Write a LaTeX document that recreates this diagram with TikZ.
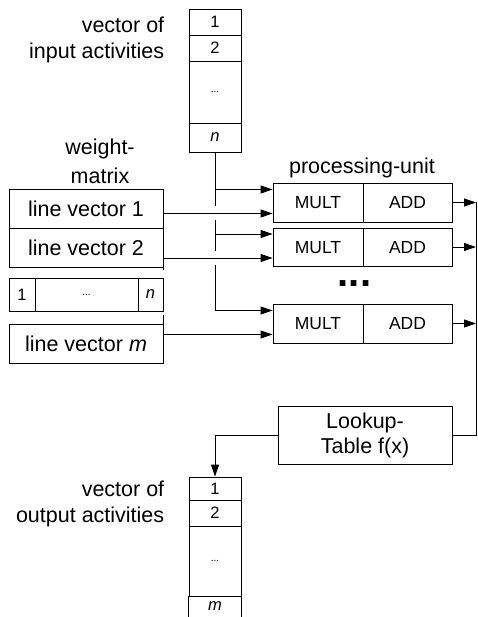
\documentclass[tikz,border=0pt]{standalone}
\usepackage{fontspec}
\setmainfont{Liberation Sans}
\usetikzlibrary{arrows.meta,calc}

\tikzset{
  cell/.style={draw, inner sep=0pt, minimum width=52pt, font=\fontsize{16.5}{19}\selectfont},
  lbl/.style={align=right, anchor=east, font=\fontsize{21.5}{26}\selectfont},
  bigbox/.style={draw, inner sep=0pt, font=\fontsize{21.5}{25}\selectfont},
  unit/.style={draw, inner sep=0pt, minimum width=90pt, text height=12.6pt, text depth=0pt, font=\fontsize{17.5}{21}\selectfont},
  conn/.style={-{Triangle[length=12pt,width=8pt]}},
}

\begin{document}
\begin{tikzpicture}[x=1pt, y=-1pt, line width=0.9pt]
    \useasboundingbox (0,0) rectangle (477,617);

    % Input vector
    \node[cell, minimum height=26pt] (in1) at (215,22) {1};
    \node[cell, minimum height=26pt] (in2) at (215,48) {2};
    \node[cell, minimum height=62pt, font=\fontsize{10}{12}\selectfont] (indots) at (215,92) {...};
    \node[cell, minimum height=29pt] (inn) at (215,137.5) {\textit{n}};
    \node[lbl] (inlbl) at (168,40) {vector of\\input activities};

    % Weight matrix
    \node[align=center, font=\fontsize{21.5}{29}\selectfont] (wmlbl) at (100,161) {weight-\\matrix};
    \node[bigbox, minimum width=154pt, minimum height=39pt] (lv1) at (86,208.5) {line vector 1};
    \node[bigbox, minimum width=154pt, minimum height=39pt] (lv2) at (86,247.5) {line vector 2};
    \node[cell, minimum width=26pt, minimum height=33pt] (row1) at (22,294.5) {1};
    \node[cell, minimum width=103pt, minimum height=33pt, font=\fontsize{10}{12}\selectfont] (rowdots) at (86.5,294.5) {...};
    \node[cell, minimum width=25pt, minimum height=33pt] (rown) at (150.5,294.5) {\textit{n}};
    \node[bigbox, minimum width=154pt, minimum height=39pt] (lvm) at (86,343.5) {line vector \textit{m}};
    \draw (lv2.south east) -- ++(0,3);
    \draw (lvm.north east) -- ++(0,-9);

    % Processing units
    \node[font=\fontsize{21.5}{25}\selectfont] (pulbl) at (362,168) {processing-unit};
    \foreach \i/\y/\h in {1/202.5/39, 2/247/38, 3/323.5/39} {
        \node[unit, minimum height=\h pt] (mult\i) at (318,\y) {MULT};
        \node[unit, minimum width=89pt, minimum height=\h pt] (add\i) at (407.5,\y) {ADD};
        \coordinate (m\i a) at ([yshift=13pt]mult\i.west);
        \coordinate (m\i b) at ([yshift=-11pt]mult\i.west);
    }
    \node[anchor=base, font=\fontsize{40}{44}\selectfont\bfseries] (pudots) at (354.5,286.5) {...};

    % Input vector to the MULT units (with hops)
    \draw (inn.south) -- ($(inn.south |- m1b)+(0,-7)$);
    \draw ($(inn.south |- m1b)+(0,7)$) -- ($(inn.south |- m2b)+(0,-7)$);
    \draw[conn] ($(inn.south |- m2b)+(0,7)$) -- (inn.south |- m3a) -- (m3a);
    \draw[conn] (inn.south |- m1a) -- (m1a);
    \draw[conn] (inn.south |- m2a) -- (m2a);

    % Line vectors to the MULT units
    \draw[conn] (lv1.east |- m1b) -- (m1b);
    \draw[conn] (lv2.east |- m2b) -- (m2b);
    \draw[conn] (lvm.east |- m3b) -- (m3b);

    % Lookup table
    \node[bigbox, align=center, minimum width=174pt, minimum height=58pt] (lut) at (365,435) {Lookup-\\Table f(x)};
    \coordinate (bus) at (476,0);
    \foreach \i in {1,2,3}
        \draw[conn] (add\i.east) -- (add\i.east -| bus);
    \draw (add1.east -| bus) -- (lut.east -| bus) -- (lut.east);

    % Output vector
    \node[cell, minimum height=23pt] (out1) at (215,488.5) {1};
    \node[cell, minimum height=26pt] (out2) at (215,513) {2};
    \node[cell, minimum height=70pt, font=\fontsize{10}{12}\selectfont] (outdots) at (215,561) {...};
    \node[cell, draw=none, minimum height=21pt] (outm) at (215,606.5) {\textit{m}};
    \draw (outm.north west) -- ++(0,23);
    \draw (outm.north east) -- ++(0,23);
    \node[lbl] (outlbl) at (168,504) {vector of\\output activities};
    \draw[conn] (lut.west) -| (out1.north);
\end{tikzpicture}
\end{document}
